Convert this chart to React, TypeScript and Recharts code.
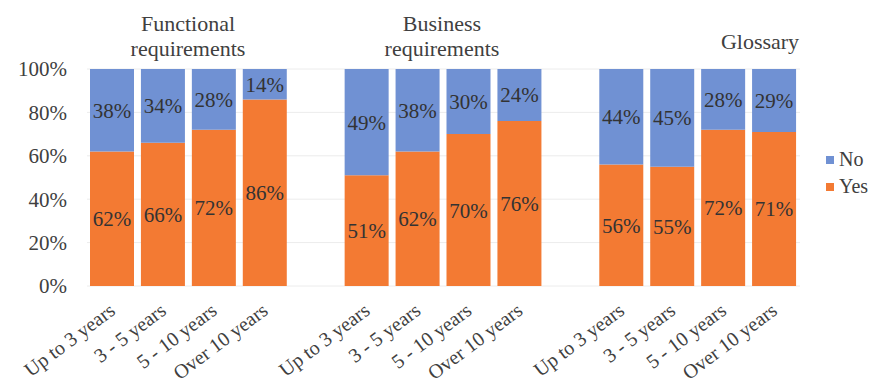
import React from 'react';
import { BarChart, Bar, XAxis, YAxis, CartesianGrid, LabelList } from 'recharts';

const categories = ['Up to 3 years', '3 - 5 years', '5 - 10 years', 'Over 10 years'];
const groupTitles = [['Functional', 'requirements'], ['Business', 'requirements'], ['Glossary']];

const yesFunctional = [62, 66, 72, 86];
const noFunctional = [38, 34, 28, 14];
const yesBusiness = [51, 62, 70, 76];
const noBusiness = [49, 38, 30, 24];
const yesGlossary = [56, 55, 72, 71];
const noGlossary = [44, 45, 28, 29];

const yTicks = [0, 20, 40, 60, 80, 100];

const BLUE = '#7091d3';
const ORANGE = '#f37a33';
const FONT = "'Liberation Serif', 'DejaVu Serif', serif";
const TEXT = '#404040';

// one chart, with an empty slot between the three groups
const groups = [
  { yes: yesFunctional, no: noFunctional },
  { yes: yesBusiness, no: noBusiness },
  { yes: yesGlossary, no: noGlossary },
];
const rows: { key: string; label: string; yes: number | null; no: number | null }[] = [];
groups.forEach((g, gi) => {
  if (gi > 0) rows.push({ key: `gap-${gi}`, label: '', yes: null, no: null });
  categories.forEach((c, ci) => {
    rows.push({ key: `${gi}-${ci}`, label: c, yes: g.yes[ci], no: g.no[ci] });
  });
});
const labelByKey: Record<string, string> = {};
rows.forEach((r) => (labelByKey[r.key] = r.label));

const pct = (v: any) => (v == null ? '' : `${v}%`);

const AngledTick = (props: any) => {
  const { x, y, payload } = props;
  const label = labelByKey[payload.value];
  if (!label) return null;
  const ax = x + 4;
  const ay = y + 19;
  return (
    <text
      x={ax}
      y={ay}
      transform={`rotate(-37, ${ax}, ${ay})`}
      textAnchor="end"
      fontSize={20}
      fontFamily={FONT}
      fill={TEXT}
    >
      {label}
    </text>
  );
};

const titleStyle = (left: number, top: number): React.CSSProperties => ({
  position: 'absolute',
  left,
  top,
  transform: 'translateX(-50%)',
  fontFamily: FONT,
  fontSize: 22,
  lineHeight: '25px',
  color: TEXT,
  textAlign: 'center',
  whiteSpace: 'nowrap',
});

const legendRow = (top: number, color: string, text: string) => (
  <div
    style={{
      position: 'absolute',
      left: 826,
      top,
      display: 'flex',
      alignItems: 'center',
      fontFamily: FONT,
      fontSize: 20,
      color: TEXT,
    }}
  >
    <span style={{ width: 8, height: 8, background: color, marginRight: 5, display: 'inline-block' }} />
    {text}
  </div>
);

export default function App() {
  return (
    <div style={{ position: 'absolute', left: 0, top: 0, width: 876, height: 389, background: '#fff' }}>
      <BarChart
        width={876}
        height={389}
        data={rows}
        margin={{ top: 69, right: 76, bottom: 0, left: 0 }}
      >
        <CartesianGrid vertical={false} stroke="#ececec" />
        <XAxis
          dataKey="key"
          axisLine={false}
          tickLine={false}
          interval={0}
          height={103}
          tick={<AngledTick />}
        />
        <YAxis
          domain={[0, 100]}
          ticks={yTicks}
          width={87}
          axisLine={false}
          tickLine={false}
          tickMargin={14}
          tickFormatter={(v) => `${v}%`}
          tick={{ fill: TEXT, fontSize: 21, fontFamily: FONT }}
        />
        <Bar dataKey="yes" stackId="a" fill={ORANGE} barSize={44} isAnimationActive={false}>
          <LabelList dataKey="yes" position="center" formatter={pct} fill="#333" fontSize={21} fontFamily={FONT} />
        </Bar>
        <Bar dataKey="no" stackId="a" fill={BLUE} barSize={44} isAnimationActive={false}>
          <LabelList dataKey="no" position="center" formatter={pct} fill="#333" fontSize={21} fontFamily={FONT} />
        </Bar>
      </BarChart>
      <div style={titleStyle(188, 11)}>
        {groupTitles[0][0]}
        <br />
        {groupTitles[0][1]}
      </div>
      <div style={titleStyle(442, 11)}>
        {groupTitles[1][0]}
        <br />
        {groupTitles[1][1]}
      </div>
      <div style={titleStyle(760, 29)}>{groupTitles[2][0]}</div>
      {legendRow(148, BLUE, 'No')}
      {legendRow(175, ORANGE, 'Yes')}
    </div>
  );
}
